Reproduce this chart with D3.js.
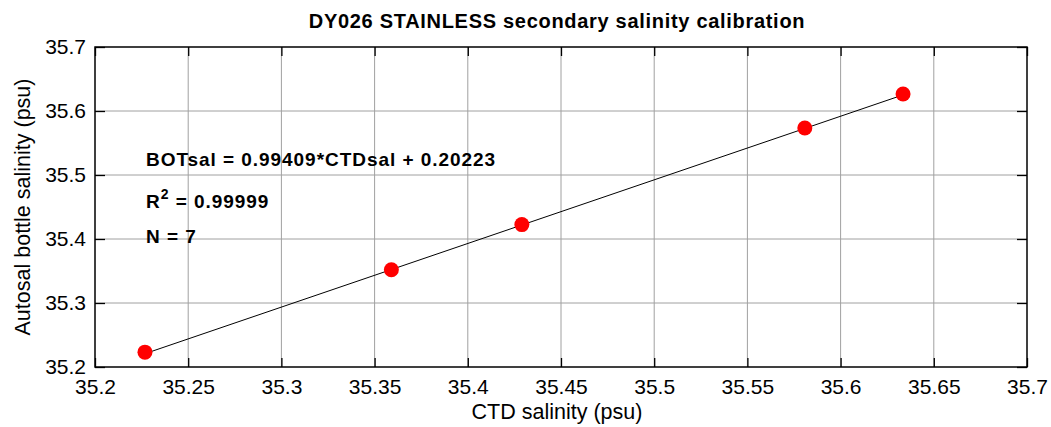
<!DOCTYPE html>
<html>
<head>
<meta charset="utf-8">
<script src="https://cdn.jsdelivr.net/npm/d3@7"></script>
<style>
  body { margin: 0; background: #fff; }
  svg text { font-family: "Liberation Sans", Arial, sans-serif; }
</style>
</head>
<body>
<div id="chart"></div>
<script>
// calibration samples (CTD vs bottle salinity)
var ctdSal = [35.2268, 35.3590, 35.4290, 35.5808, 35.6335];
var botSal = [35.2232, 35.3520, 35.4225, 35.5735, 35.6265];
var tickValues = [35.2, 35.25, 35.3, 35.35, 35.4, 35.45, 35.5, 35.55, 35.6, 35.65, 35.7];
var yTickValues = [35.2, 35.3, 35.4, 35.5, 35.6, 35.7];
var fitSlope = 0.99409;
var fitOffset = 0.20223;
var notes = ["BOTsal = 0.99409*CTDsal + 0.20223", "R", "N = 7"];

var width = 1051, height = 427;
var pLeft = 95, pRight = 1027, pTop = 47, pBottom = 367;

var svg = d3.select("#chart").append("svg")
  .attr("width", width).attr("height", height);

var x = d3.scaleLinear().domain([35.2, 35.7]).range([pLeft, pRight]);
var y = d3.scaleLinear().domain([35.2, 35.7]).range([pBottom, pTop]);

//grid
svg.append("g").selectAll("line").data(tickValues.slice(1, -1)).enter().append("line")
  .attr("x1", function(d) { return x(d); }).attr("x2", function(d) { return x(d); })
  .attr("y1", pTop).attr("y2", pBottom)
  .attr("stroke", "#a0a0a0").attr("stroke-width", 1);
svg.append("g").selectAll("line").data(yTickValues.slice(1, -1)).enter().append("line")
  .attr("y1", function(d) { return y(d); }).attr("y2", function(d) { return y(d); })
  .attr("x1", pLeft).attr("x2", pRight)
  .attr("stroke", "#a0a0a0").attr("stroke-width", 1);

// axes with inward ticks on all sides
function styleAxis(g) {
  g.select(".domain").remove();
  g.selectAll(".tick line").attr("stroke", "#000").attr("stroke-width", 1.3);
  g.selectAll("text").attr("font-size", "21px").attr("fill", "#000");
}
svg.append("g").attr("transform", "translate(0," + pBottom + ")")
  .call(d3.axisBottom(x).tickValues(tickValues).tickSize(-9).tickPadding(12).tickFormat(d3.format("")))
  .call(styleAxis);
svg.append("g").attr("transform", "translate(0," + pTop + ")")
  .call(d3.axisTop(x).tickValues(tickValues).tickSize(-9).tickFormat(""))
  .call(styleAxis);
svg.append("g").attr("transform", "translate(" + pLeft + ",0)")
  .call(d3.axisLeft(y).tickValues(yTickValues).tickSize(-10).tickPadding(9).tickFormat(d3.format("")))
  .call(styleAxis);
svg.append("g").attr("transform", "translate(" + pRight + ",0)")
  .call(d3.axisRight(y).tickValues(yTickValues).tickSize(-10).tickFormat(""))
  .call(styleAxis);

svg.append("rect").attr("x", pLeft).attr("y", pTop)
  .attr("width", pRight - pLeft).attr("height", pBottom - pTop)
  .attr("fill", "none").attr("stroke", "#000").attr("stroke-width", 1.5);

// fit line
var xMin = d3.min(ctdSal), xMax = d3.max(ctdSal);
svg.append("line")
  .attr("x1", x(xMin)).attr("y1", y(fitSlope * xMin + fitOffset))
  .attr("x2", x(xMax)).attr("y2", y(fitSlope * xMax + fitOffset))
  .attr("stroke", "#000").attr("stroke-width", 1);

svg.selectAll("circle").data(ctdSal).enter().append("circle")
  .attr("cx", function(d) { return x(d); })
  .attr("cy", function(d, i) { return y(botSal[i]); })
  .attr("r", 7.5).attr("fill", "#ff0000");

// annotations
var ann = svg.append("g").attr("font-weight", "bold").attr("font-size", "19px")
  .attr("letter-spacing", "0.95px").attr("fill", "#000");
ann.append("text").attr("x", 146).attr("y", 166).text(notes[0]);
var r2 = ann.append("text").attr("x", 146).attr("y", 208);
r2.append("tspan").text(notes[1]);
r2.append("tspan").attr("dy", -9).attr("font-size", "14px").text("2");
r2.append("tspan").attr("dy", 9).text(" = 0.99999");
ann.append("text").attr("x", 146).attr("y", 243).text(notes[2]);

// titles
svg.append("text").attr("x", 557).attr("y", 28).attr("text-anchor", "middle")
  .attr("font-weight", "bold").attr("font-size", "20px").attr("letter-spacing", "0.7px")
  .text("DY026 STAINLESS secondary salinity calibration");
svg.append("text").attr("x", 557).attr("y", 419).attr("text-anchor", "middle")
  .attr("font-size", "21.5px").text("CTD salinity (psu)");
svg.append("text").attr("transform", "translate(30,207) rotate(-90)")
  .attr("text-anchor", "middle").attr("font-size", "21.5px")
  .text("Autosal bottle salinity (psu)");
</script>
</body>
</html>
